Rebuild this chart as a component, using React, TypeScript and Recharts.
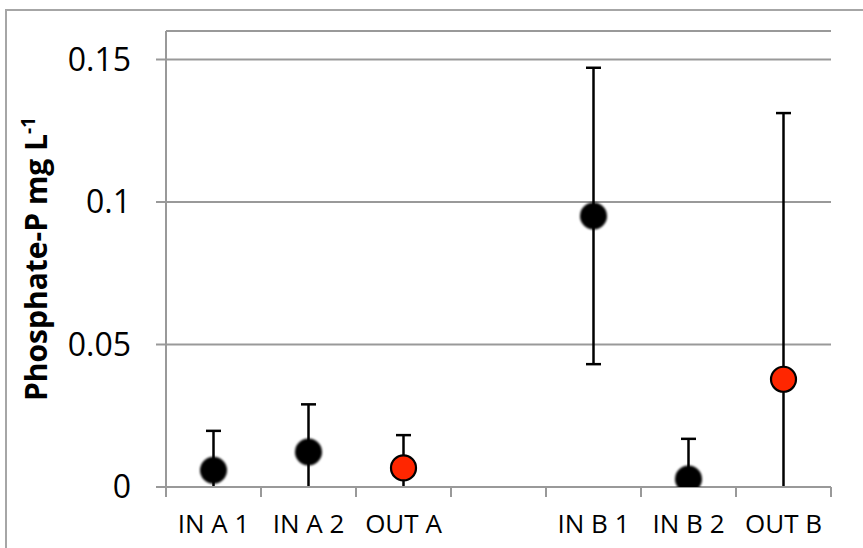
import { ScatterChart, Scatter, XAxis, YAxis, CartesianGrid, ErrorBar } from "recharts";

const categories = ["IN A 1", "IN A 2", "OUT A", "", "IN B 1", "IN B 2", "OUT B"];
const means = [0.0059, 0.0123, 0.0067, null, 0.0951, 0.0028, 0.0378];
const errors = [0.0138, 0.0167, 0.0115, null, 0.052, 0.0141, 0.0934];
const isOutflow = [false, false, true, false, false, false, true];
const yTicks = [0, 0.05, 0.1, 0.15];

const GRAY = "#999";
const FONT = "'Open Sans', sans-serif";

// Excel-style: error bars stop at the axis; lower caps only when inside the plot
function build(out: boolean) {
  const rows: any[] = [];
  categories.forEach((c, i) => {
    const m = means[i];
    const e = errors[i];
    if (m == null || e == null || isOutflow[i] !== out) return;
    const clipped = m - e < 0;
    rows.push({
      name: c,
      x: i + 0.5,
      y: m,
      up: [0, e],
      low: clipped ? [0, 0] : [e, 0],
      toAxis: clipped ? [m, 0] : [0, 0],
    });
  });
  return rows;
}

const inflow = build(false);
const outflow = build(true);

const BlackDot = (p: any) => (
  <g>
    <defs>
      <filter id="soft" x="-50%" y="-50%" width="200%" height="200%">
        <feGaussianBlur stdDeviation="1.3" />
      </filter>
    </defs>
    <circle cx={p.cx} cy={p.cy} r={13.5} fill="#000" filter="url(#soft)" />
  </g>
);

const RedDot = (p: any) => (
  <circle cx={p.cx} cy={p.cy} r={12.5} fill="#ff2600" stroke="#000" strokeWidth={2.2} />
);

const NoDot = () => <g />;

const YLabel = () => (
  <text
    x={47}
    y={259}
    textAnchor="middle"
    transform="rotate(-90, 47, 259)"
    fontFamily={FONT}
    fontWeight="bold"
    fontSize={30}
    fill="#000"
  >
    Phosphate-P mg L
    <tspan fontSize={19} dy={-12}>-1</tspan>
  </text>
);

const bars = (
  <>
    <ErrorBar dataKey="up" direction="y" width={7.5} stroke="#000" strokeWidth={2.5} />
    <ErrorBar dataKey="low" direction="y" width={7.5} stroke="#000" strokeWidth={2.5} />
    <ErrorBar dataKey="toAxis" direction="y" width={0} stroke="#000" strokeWidth={2.5} />
  </>
);

export default function App() {
  return (
    <div style={{ position: "fixed", left: 0, top: 0, width: 863, height: 548, overflow: "hidden", background: "#fff", fontFamily: FONT }}>
      <div style={{ position: "absolute", left: 5, top: 9, width: 900, height: 600, border: "2px solid #a6a6a6" }} />
      <div style={{ position: "absolute", left: 0, top: 0 }}>
        <ScatterChart width={863} height={548} margin={{ top: 31, right: 32, bottom: 11, left: 0 }}>
          <CartesianGrid horizontal vertical={false} stroke={GRAY} strokeWidth={2} />
          <XAxis
            type="number"
            dataKey="x"
            domain={[0, 7]}
            ticks={[0, 1, 2, 3, 4, 5, 6, 7]}
            tickFormatter={() => ""}
            height={10}
            tickSize={10}
            axisLine={{ stroke: GRAY, strokeWidth: 2 }}
            tickLine={{ stroke: GRAY, strokeWidth: 2 }}
          />
          <XAxis
            xAxisId="lab"
            type="number"
            dataKey="x"
            domain={[0, 7]}
            ticks={[0.5, 1.5, 2.5, 3.5, 4.5, 5.5, 6.5]}
            interval={0}
            tickFormatter={(v: number) => categories[Math.floor(v)]}
            height={40}
            tickSize={0}
            tickMargin={18}
            axisLine={false}
            tickLine={false}
            tick={{ fontSize: 26, fill: "#000", fontFamily: FONT }}
          />
          <YAxis
            type="number"
            dataKey="y"
            domain={[0, 0.16]}
            allowDataOverflow
            ticks={yTicks}
            width={166}
            tickSize={10}
            tickMargin={25}
            axisLine={{ stroke: GRAY, strokeWidth: 2 }}
            tickLine={{ stroke: GRAY, strokeWidth: 2 }}
            tick={{ fontSize: 32, fill: "#000", fontFamily: FONT }}
            label={<YLabel />}
          />
          {/* invisible series so the label axis gets a scale */}
          <Scatter xAxisId="lab" data={inflow} shape={NoDot} legendType="none" isAnimationActive={false} />
          <Scatter data={inflow} shape={BlackDot} isAnimationActive={false}>
            {bars}
          </Scatter>
          <Scatter data={outflow} shape={RedDot} isAnimationActive={false}>
            {bars}
          </Scatter>
        </ScatterChart>
      </div>
    </div>
  );
}
